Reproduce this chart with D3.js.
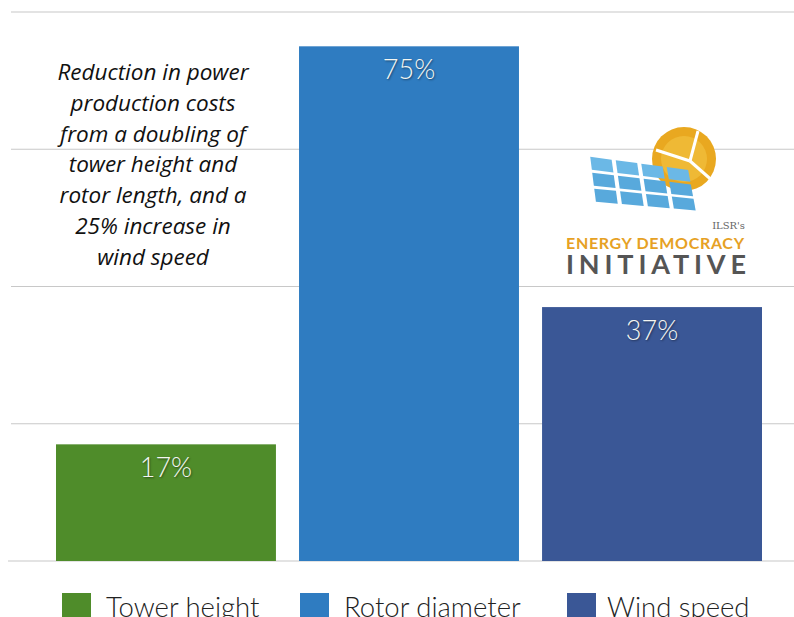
<!DOCTYPE html>
<html>
<head>
<meta charset="utf-8">
<script src="https://cdn.jsdelivr.net/npm/d3@7"></script>
<style>
  body { margin: 0; background: #fff; }
  svg { display: block; }
  .val { font-family: Lato, sans-serif; font-weight: 300; font-size: 27px; fill: #f4f6f2; text-shadow: 1px 1px 2px rgba(0,0,0,0.45); }
  .note { font-family: "Open Sans", sans-serif; font-style: italic; font-size: 22.5px; fill: #111; }
  .leg { font-family: Lato, sans-serif; font-weight: 300; font-size: 27.5px; fill: #222; }
</style>
</head>
<body>
<svg id="chart" width="794" height="617"></svg>
<script>
var categories = ["Tower height", "Rotor diameter", "Wind speed"];
var values = [17, 75, 37];
var labels = ["17%", "75%", "37%"];
var colors = ["#4f8c2a", "#2f7cc1", "#3a5796"];
var gridTicks = [0, 20, 40, 60, 80];
var noteLines = ["Reduction in power", "production costs", "from a doubling of",
                 "tower height and", "rotor length, and a", "25% increase in", "wind speed"];

var svg = d3.select("#chart"),
    margin = {top: 12, right: 32, bottom: 56, left: 56},
    width  = +svg.attr("width")  - margin.left - margin.right,
    height = +svg.attr("height") - margin.top  - margin.bottom;

var x = d3.scaleBand().domain(categories).range([0, width]).paddingInner(0.095).paddingOuter(0),
    y = d3.scaleLinear().domain([0, 80]).range([height, 0]);

var g = svg.append("g")
    .attr("transform", "translate(" + margin.left + "," + margin.top + ")");

// gridlines
g.selectAll(".grid")
  .data(gridTicks)
  .enter().append("line")
    .attr("x1", function(d) { return d === 0 ? -48 : -45; })
    .attr("x2", width + margin.right)
    .attr("y1", function(d) { return y(d); })
    .attr("y2", function(d) { return y(d); })
    .attr("stroke", "#c8c8c8")
    .attr("stroke-width", 1.2);

// bars
g.selectAll(".bar")
  .data(values)
  .enter().append("rect")
    .attr("x", function(d, i) { return x(categories[i]); })
    .attr("y", function(d) { return y(d); })
    .attr("width", x.bandwidth())
    .attr("height", function(d) { return y(0) - y(d); })
    .attr("fill", function(d, i) { return colors[i]; });

g.selectAll(".val")
  .data(values)
  .enter().append("text")
    .attr("class", "val")
    .attr("x", function(d, i) { return x(categories[i]) + x.bandwidth() / 2; })
    .attr("y", function(d) { return y(d) + 33; })
    .attr("text-anchor", "middle")
    .text(function(d, i) { return labels[i]; });

// annotation
svg.append("g").selectAll("text")
  .data(noteLines)
  .enter().append("text")
    .attr("class", "note")
    .attr("x", 153)
    .attr("y", function(d, i) { return 80 + i * 30.8; })
    .attr("text-anchor", "middle")
    .text(function(d) { return d; });

// logo
var logo = svg.append("g");
logo.append("circle").attr("cx", 684).attr("cy", 159).attr("r", 32).attr("fill", "#e9a820");
logo.append("circle").attr("cx", 684).attr("cy", 159).attr("r", 23).attr("fill", "#f3c444").attr("opacity", 0.6);
[[698, 131], [656, 150], [715, 183]].forEach(function(p) {
  logo.append("line").attr("x1", 690).attr("y1", 161).attr("x2", p[0]).attr("y2", p[1])
    .attr("stroke", "#fff").attr("stroke-width", 3);
});
var panel = [[588, 155], [690, 169], [698, 212], [594, 203]];
function lerp(a, b, t) { return [a[0] + (b[0] - a[0]) * t, a[1] + (b[1] - a[1]) * t]; }
function cell(u0, u1, v0, v1) {
  function pt(u, v) { return lerp(lerp(panel[0], panel[1], u), lerp(panel[3], panel[2], u), v); }
  return [pt(u0, v0), pt(u1, v0), pt(u1, v1), pt(u0, v1)];
}
var gap = 0.02;
for (var c = 0; c < 4; c++) {
  for (var r = 0; r < 3; r++) {
    logo.append("path")
      .attr("d", d3.line()(cell(c / 4 + gap, (c + 1) / 4 - gap, r / 3 + gap * 1.5, (r + 1) / 3 - gap * 1.5)) + "Z")
      .attr("fill", r === 0 ? "#6bb8e6" : "#58a9dc");
  }
}
logo.append("text").attr("x", 745).attr("y", 229).attr("text-anchor", "end")
  .attr("font-family", "'DejaVu Serif', serif").attr("font-size", 10).attr("fill", "#666").text("ILSR's");
logo.append("text").attr("x", 566).attr("y", 249)
  .attr("font-family", "Lato, sans-serif").attr("font-weight", 700).attr("font-size", 16)
  .attr("fill", "#e6a124").attr("textLength", 178).text("ENERGY DEMOCRACY");
logo.append("text").attr("x", 566).attr("y", 274)
  .attr("font-family", "Lato, sans-serif").attr("font-weight", 700).attr("font-size", 27)
  .attr("fill", "#555").attr("textLength", 180).text("INITIATIVE");

// legend
var legX = [62, 300, 567];
var leg = svg.append("g").selectAll("g")
  .data(categories)
  .enter().append("g")
    .attr("transform", function(d, i) { return "translate(" + legX[i] + ",593)"; });
leg.append("rect").attr("width", 29).attr("height", 26).attr("fill", function(d, i) { return colors[i]; });
leg.append("text").attr("class", "leg").attr("x", function(d, i) { return i === 2 ? 40 : 44; }).attr("y", 24)
  .text(function(d) { return d; });
</script>
</body>
</html>
